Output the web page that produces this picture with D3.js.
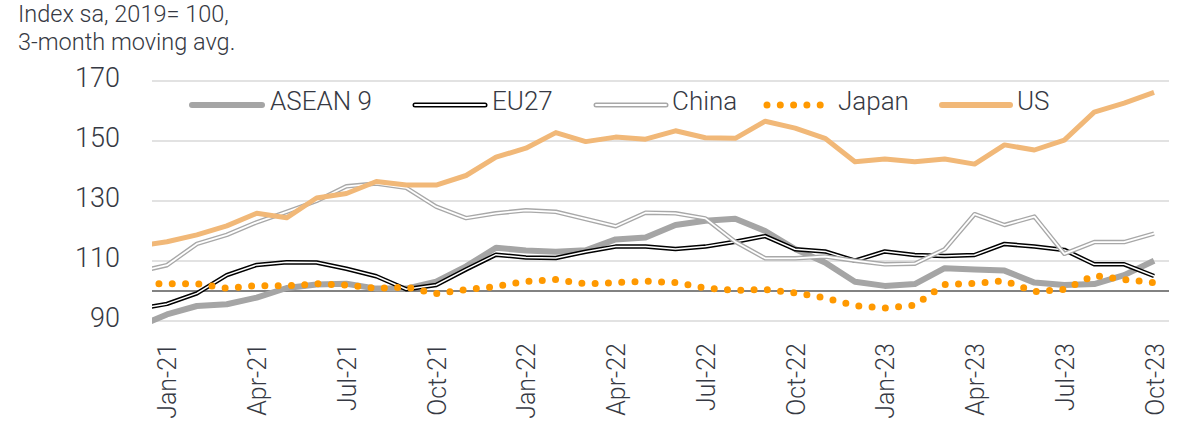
<!DOCTYPE html>
<html>
<head>
<meta charset="utf-8">
<script src="https://cdnjs.cloudflare.com/ajax/libs/d3/7.8.5/d3.min.js"></script>
<style>
	body { margin: 0; background: #fff; }
	text { font-family: Roboto, "Open Sans", sans-serif; font-weight: 300; fill: #363943; }
</style>
</head>
<body>
<div id="chart"></div>
<script>
	// months shown (Dec-20 is only a stub cut off at the left edge of the plot)
	var months = ["Dec-20",
		"Jan-21","Feb-21","Mar-21","Apr-21","May-21","Jun-21","Jul-21","Aug-21","Sep-21","Oct-21","Nov-21","Dec-21",
		"Jan-22","Feb-22","Mar-22","Apr-22","May-22","Jun-22","Jul-22","Aug-22","Sep-22","Oct-22","Nov-22","Dec-22",
		"Jan-23","Feb-23","Mar-23","Apr-23","May-23","Jun-23","Jul-23","Aug-23","Sep-23","Oct-23"];

	var tickLabels = ["Jan-21","Apr-21","Jul-21","Oct-21","Jan-22","Apr-22","Jul-22","Oct-22","Jan-23","Apr-23","Jul-23","Oct-23"];
	var yTicks = [90, 110, 130, 150, 170];

	// series values, index sa 2019 = 100
	var asean = [88, 92.2, 95.0, 95.6, 97.8, 101.0, 102.2, 102.4, 100.8, 100.8, 103.1, 108.2, 114.4,
		113.5, 113.1, 113.6, 117.2, 117.8, 122.0, 123.4, 124.1, 120.0, 114.0, 109.5, 103.1,
		101.7, 102.3, 107.6, 107.2, 106.8, 102.8, 102.0, 102.3, 105.3, 110.1];
	var eu27 = [94.0, 95.7, 99.2, 105.3, 108.7, 109.6, 109.5, 107.4, 104.9, 100.6, 102.0, 107.2, 112.1,
		111.2, 111.0, 113.1, 114.8, 114.8, 114.0, 114.8, 116.4, 118.3, 113.9, 113.2, 110.1,
		113.2, 112.0, 111.7, 112.0, 115.7, 114.8, 113.7, 108.9, 108.9, 105.0];
	var china = [106.3, 108.6, 115.7, 118.7, 122.9, 126.4, 130.0, 134.9, 135.8, 134.4, 128.1, 124.3, 125.9,
		126.9, 126.4, 124.0, 121.6, 126.1, 125.9, 124.2, 116.4, 110.9, 110.9, 111.5, 110.1,
		108.9, 109.1, 113.9, 125.6, 122.0, 124.8, 112.4, 116.3, 116.3, 119.1];
	var japan = [102.4, 102.4, 102.4, 100.9, 101.8, 101.7, 102.4, 102.0, 100.9, 101.3, 99.1, 100.5, 101.5,
		103.2, 103.8, 102.4, 102.8, 103.3, 102.8, 101.0, 100.2, 100.5, 99.4, 97.7, 95.1,
		94.3, 95.3, 102.2, 102.5, 103.4, 99.8, 100.5, 105.2, 103.8, 102.8];
	var us = [115.0, 116.4, 118.7, 121.7, 125.9, 124.4, 131.0, 132.5, 136.5, 135.3, 135.3, 138.5, 144.6,
		147.6, 152.8, 149.8, 151.3, 150.6, 153.4, 151.1, 150.9, 156.6, 154.3, 150.9, 143.1,
		144.0, 143.1, 144.0, 142.3, 148.7, 147.0, 150.3, 159.6, 162.6, 166.2];

	var seriesNames = ["ASEAN 9", "EU27", "China", "Japan", "US"];

	var width = 1185, height = 423;
	var margin = {left: 152, right: 16, top: 81, bottom: 102};

	svg = d3.select("#chart")
		.append("svg")
		.attr("width", width)
		.attr("height", height);

	// month index: Jan-21 = 0, each month is one category slot
	x = d3.scaleLinear()
		.domain([-0.5, 33.5])
		.range([margin.left, width - margin.right]);

	y = d3.scaleLinear()
		.domain([90, 170])
		.range([height - margin.bottom, margin.top]);

	// title
	svg.append("text")
		.attr("x", 18).attr("y", 22)
		.style("font-size", "23.5px")
		.text("Index sa, 2019= 100,");
	svg.append("text")
		.attr("x", 18).attr("y", 50)
		.style("font-size", "23.5px")
		.text("3-month moving avg.");

	// gridlines
	svg.selectAll(".grid")
		.data(yTicks)
		.enter()
		.append("line")
		.attr("class", "grid")
		.attr("x1", x.range()[0]).attr("x2", x.range()[1])
		.attr("y1", function(d) { return y(d); })
		.attr("y2", function(d) { return y(d); })
		.attr("stroke", "#d9d9d9")
		.attr("stroke-width", 1.5);

	// y axis labels
	var yAxis = d3.axisLeft(y).tickValues(yTicks).tickSize(0).tickPadding(32);
	var gy = svg.append("g")
		.attr("transform", "translate(" + margin.left + ",0)")
		.call(yAxis);
	gy.select(".domain").remove();
	gy.selectAll("text")
		.attr("dy", "0.2em")
		.style("font-size", "27px")
		.style("font-family", "Roboto, sans-serif")
		.attr("fill", "#363943");

	// reference line at 100
	svg.append("line")
		.attr("x1", x.range()[0]).attr("x2", x.range()[1])
		.attr("y1", y(100)).attr("y2", y(100))
		.attr("stroke", "#595959")
		.attr("stroke-width", 1.5);

	// x axis labels, rotated
	var tickIdx = tickLabels.map(function(d) { return months.indexOf(d) - 1; });
	var xAxis = d3.axisBottom(x)
		.tickValues(tickIdx)
		.tickSize(0)
		.tickFormat(function(d) { return months[d + 1]; });
	var gx = svg.append("g")
		.attr("transform", "translate(0," + (height - margin.bottom) + ")")
		.call(xAxis);
	gx.select(".domain").remove();
	gx.selectAll("text")
		.attr("transform", "rotate(-90)")
		.attr("text-anchor", "end")
		.attr("x", -22)
		.attr("y", 0)
		.attr("dy", "0.36em")
		.style("font-size", "25px")
		.style("font-family", "Roboto, sans-serif")
		.attr("fill", "#363943");

	// clip lines to the plot area
	svg.append("clipPath").attr("id", "plotclip")
		.append("rect")
		.attr("x", x.range()[0]).attr("y", 0)
		.attr("width", x.range()[1] - x.range()[0])
		.attr("height", height - margin.bottom + 6);

	var line = d3.line()
		.x(function(d, i) { return x(i - 1); })
		.y(function(d) { return y(d); });

	var plot = svg.append("g").attr("clip-path", "url(#plotclip)");

	// ASEAN 9: thick grey
	plot.append("path").datum(asean)
		.attr("d", line).attr("fill", "none")
		.attr("stroke", "#a5a5a5").attr("stroke-width", 6).attr("stroke-linejoin", "round");

	// EU27: black double line
	plot.append("path").datum(eu27)
		.attr("d", line).attr("fill", "none")
		.attr("stroke", "#000").attr("stroke-width", 4.5).attr("stroke-linejoin", "round");
	plot.append("path").datum(eu27)
		.attr("d", line).attr("fill", "none")
		.attr("stroke", "#fff").attr("stroke-width", 1.5).attr("stroke-linejoin", "round");

	// China: grey double line
	plot.append("path").datum(china)
		.attr("d", line).attr("fill", "none")
		.attr("stroke", "#a8a8a8").attr("stroke-width", 4.5).attr("stroke-linejoin", "round");
	plot.append("path").datum(china)
		.attr("d", line).attr("fill", "none")
		.attr("stroke", "#fff").attr("stroke-width", 1.8).attr("stroke-linejoin", "round");

	// Japan: round dots
	plot.append("path").datum(japan)
		.attr("d", line).attr("fill", "none")
		.attr("stroke", "#ff9900").attr("stroke-width", 7)
		.attr("stroke-linecap", "round")
		.attr("stroke-dasharray", "0 13.3")
		.attr("stroke-dashoffset", 4.7);

	// US: light orange
	plot.append("path").datum(us)
		.attr("d", line).attr("fill", "none")
		.attr("stroke", "#f1b878").attr("stroke-width", 5).attr("stroke-linejoin", "round");

	// legend
	var legendX = [192, 415, 596, 767, 942];
	var legendText = [270, 492, 672, 838, 1017];
	var ly = 105;
	var legend = svg.append("g");
	legendX.forEach(function(lx, i) {
		var g = legend.append("g");
		if (i == 0) {
			g.append("line").attr("x1", lx).attr("x2", lx + 70).attr("y1", ly).attr("y2", ly)
				.attr("stroke", "#a5a5a5").attr("stroke-width", 6).attr("stroke-linecap", "round");
		} else if (i == 1 || i == 2) {
			var c = i == 1 ? "#000" : "#a8a8a8";
			g.append("line").attr("x1", lx).attr("x2", lx + 70).attr("y1", ly).attr("y2", ly)
				.attr("stroke", c).attr("stroke-width", 5).attr("stroke-linecap", "round");
			g.append("line").attr("x1", lx).attr("x2", lx + 70).attr("y1", ly).attr("y2", ly)
				.attr("stroke", "#fff").attr("stroke-width", 2).attr("stroke-linecap", "round");
		} else if (i == 3) {
			g.append("line").attr("x1", lx).attr("x2", lx + 54).attr("y1", ly).attr("y2", ly)
				.attr("stroke", "#ff9900").attr("stroke-width", 7).attr("stroke-linecap", "round")
				.attr("stroke-dasharray", "0 13.3");
		} else {
			g.append("line").attr("x1", lx).attr("x2", lx + 68).attr("y1", ly).attr("y2", ly)
				.attr("stroke", "#f1b878").attr("stroke-width", 6).attr("stroke-linecap", "round");
		}
		g.append("text")
			.attr("x", legendText[i]).attr("y", ly + 5)
			.style("font-size", "26px")
			.text(seriesNames[i]);
	});
</script>
</body>
</html>
